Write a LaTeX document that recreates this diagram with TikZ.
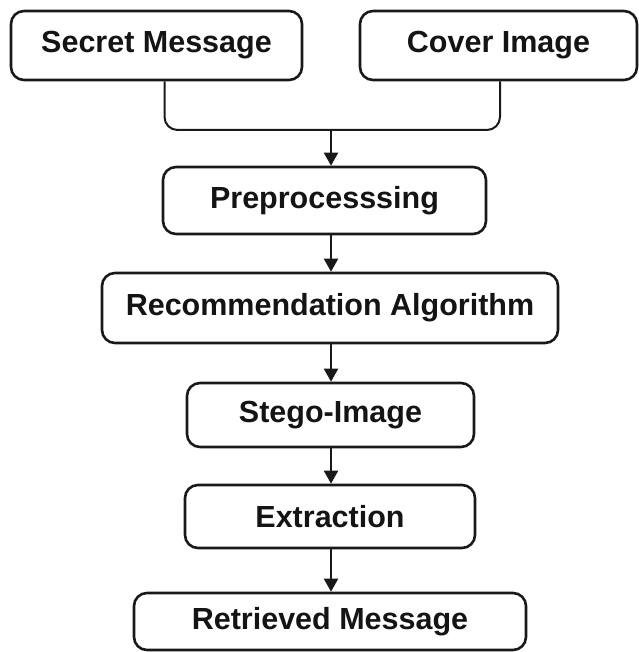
\documentclass[tikz,border=0pt]{standalone}
\usepackage{fontspec}
\setmainfont{Liberation Sans}
\usetikzlibrary{arrows.meta,calc}
\begin{document}
\begin{tikzpicture}[x=1pt,y=-1pt,
  box/.style={draw=black!90, line width=2.6pt, rounded corners=13pt, fill=white,
    inner sep=0pt, font=\fontsize{30.5}{36}\selectfont\bfseries, text=black!92},
  conn/.style={draw=black!90, line width=2pt},
  arr/.style={conn, -{Triangle[length=13pt,width=14pt]}}]
\useasboundingbox (0,0) rectangle (638,652);
\node[box, minimum width=291pt, minimum height=69pt] (secret) at (156.5,45.5) {\raisebox{-2pt}{Secret Message}};
\node[box, minimum width=277pt, minimum height=69pt] (cover) at (498.5,45.5) {\raisebox{-2pt}{Cover Image}};
\node[box, minimum width=323pt, minimum height=67pt] (pre) at (324.5,200.5) {Preprocesssing};
\node[box, minimum width=456pt, minimum height=70pt] (rec) at (330,308) {\raisebox{-2pt}{Recommendation Algorithm}};
\node[box, minimum width=287pt, minimum height=64pt] (stego) at (330.5,415) {\raisebox{-2pt}{Stego-Image}};
\node[box, minimum width=290pt, minimum height=63pt] (ext) at (330,516.5) {Extraction};
\node[box, minimum width=392pt, minimum height=57pt] (ret) at (330,621.5) {\raisebox{-2pt}{Retrieved Message}};
\coordinate (join) at (331,130);
\draw[conn, rounded corners=13pt] ($(secret.south)+(8,0)$) |- (join) -| ($(cover.south)+(1.5,0)$);
\draw[arr] (join) -- (join |- pre.north);
\draw[arr] (pre.south -| join) -- (rec.north -| join);
\draw[arr] (rec.south -| join) -- (stego.north -| join);
\draw[arr] (stego.south -| join) -- (ext.north -| join);
\draw[arr] (ext.south -| join) -- (ret.north -| join);
\end{tikzpicture}
\end{document}
